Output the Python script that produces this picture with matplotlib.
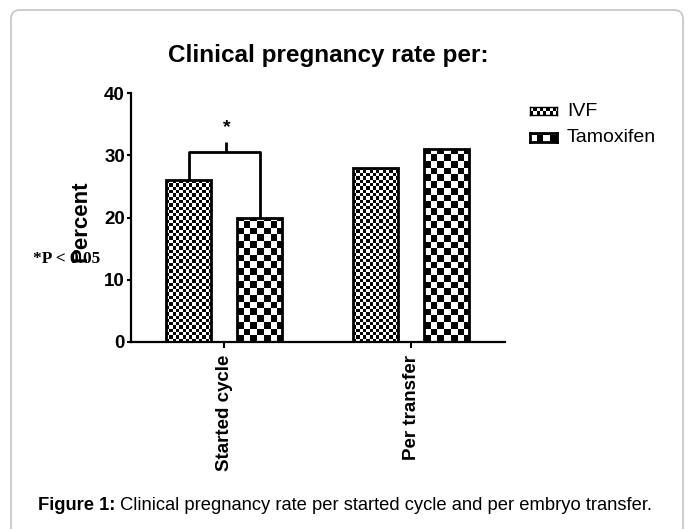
import numpy as np
import matplotlib
matplotlib.use("Agg")
import matplotlib.pyplot as plt
from matplotlib.patches import FancyBboxPatch
from matplotlib.transforms import IdentityTransform

# =====================================================
# DATA
# =====================================================

groups = ["Started cycle", "Per transfer"]
series = ["IVF", "Tamoxifen"]
ivf_values = [26, 28]
tamoxifen_values = [20, 31]
y_ticks = [0, 10, 20, 30, 40]
bracket_top = 30.5
star_label = "*"
p_note = "*P < 0.05"
title = "Clinical pregnancy rate per:"
caption_bold = "Figure 1:"
caption_rest = " Clinical pregnancy rate per started cycle and per embryo transfer."

# checker cell size in pixels for each series
cell_px = [3.3, 6.7]

plt.rcParams["font.family"] = ["Liberation Sans", "DejaVu Sans"]

W, H = 695, 529
fig = plt.figure(figsize=(W / 100, H / 100), dpi=100)
fig.patch.set_facecolor("white")

# rounded frame around the figure
frame = FancyBboxPatch((11, -20), 672, H - 10 + 20,
                       boxstyle="round,pad=0,rounding_size=9",
                       transform=IdentityTransform(),
                       facecolor="none", edgecolor="#c4c4c4", linewidth=1.2)
fig.patches.append(frame)

# =====================================================
# AXES
# =====================================================

ax_left, ax_right, ax_top, ax_bottom = 130.5, 505, 93, 342
ax = fig.add_axes([ax_left / W, (H - ax_bottom) / H,
                   (ax_right - ax_left) / W, (ax_bottom - ax_top) / H])
ax.set_xlim(-0.5, 1.5)
ax.set_ylim(0, 40)

for s in ["top", "right"]:
    ax.spines[s].set_visible(False)
for s in ["left", "bottom"]:
    ax.spines[s].set_linewidth(1.6)

x = np.arange(len(groups))
offset = 0.19
bar_w = 0.24

# pixels per data unit
p0 = ax.transData.transform((0, 0))
p1 = ax.transData.transform((1, 1))
px_x = p1[0] - p0[0]
px_y = p1[1] - p0[1]


def checker_fill(patch, cell):
    x0 = patch.get_x()
    w = patch.get_width()
    h = patch.get_height()
    ncol = int(np.ceil(w * px_x / cell)) + 1
    nrow = int(np.ceil(h * px_y / cell)) + 1
    grid = (np.indices((nrow, ncol)).sum(axis=0) % 2).astype(float)
    im = ax.imshow(grid, cmap="gray", interpolation="nearest", aspect="auto",
                   origin="lower",
                   extent=(x0, x0 + ncol * cell / px_x, 0, nrow * cell / px_y),
                   zorder=1)
    im.set_clip_path(patch)


all_values = [ivf_values, tamoxifen_values]
bar_sets = []
for k, vals in enumerate(all_values):
    pos = x + (k * 2 - 1) * offset
    bars = ax.bar(pos, vals, width=bar_w, facecolor="none",
                  edgecolor="black", linewidth=2.0, zorder=3)
    for b in bars:
        checker_fill(b, cell_px[k])
    bar_sets.append(bars)

ax.set_xlim(-0.5, 1.5)
ax.set_ylim(0, 40)

# significance bracket between the two "started cycle" bars
xl = x[0] - offset
xr = x[0] + offset
ax.plot([xl, xl, xr, xr],
        [ivf_values[0], bracket_top, bracket_top, tamoxifen_values[0]],
        color="black", linewidth=2.0, solid_capstyle="butt", zorder=4)
ax.plot([0.012, 0.012], [bracket_top, bracket_top + 1.7],
        color="black", linewidth=2.0, solid_capstyle="butt", zorder=4)
ax.text(0.012, 33.0, star_label, ha="center", va="bottom",
        fontsize=14, fontweight="bold")

# ticks
ax.set_yticks(y_ticks)
ax.set_yticklabels([str(t) for t in y_ticks], fontsize=13.5, fontweight="bold")
ax.tick_params(axis="y", length=3, width=1.5, pad=1)
ax.set_xticks(x)
ax.set_xticklabels(groups, rotation=90, fontsize=13.5, fontweight="bold")
ax.tick_params(axis="x", length=4.3, width=1.5, pad=5)

ax.set_ylabel("Percent", fontsize=16, fontweight="bold")
ax.yaxis.label.set(ha="center", va="center", rotation_mode="default")
ax.yaxis.set_label_coords((81.5 - ax_left) / (ax_right - ax_left),
                          (ax_bottom - 221) / (ax_bottom - ax_top))

# =====================================================
# TEXTS
# =====================================================

fig.text(328 / W, 1 - 62 / H, title, ha="center", va="baseline",
         fontsize=17.5, fontweight="bold")

fig.text(33 / W, 1 - 259 / H, p_note, ha="left", va="center",
         fontsize=12.5, fontweight="bold",
         family=["Liberation Serif", "DejaVu Serif"])

# legend drawn by hand to keep the checker fills
leg_y = [111, 137.5]
leg_box_h = [8, 9]
for k, name in enumerate(series):
    lax = fig.add_axes([530 / W, 1 - (leg_y[k] + leg_box_h[k] / 2) / H,
                        27 / W, leg_box_h[k] / H])
    ncol = int(np.ceil(27 / cell_px[k]))
    nrow = int(np.ceil(leg_box_h[k] / cell_px[k]))
    grid = (np.indices((nrow, ncol)).sum(axis=0) % 2).astype(float)
    lax.imshow(grid, cmap="gray", interpolation="nearest", aspect="auto",
               extent=(0, ncol * cell_px[k], 0, nrow * cell_px[k]))
    lax.set_xlim(0, 27)
    lax.set_ylim(0, leg_box_h[k])
    lax.set_xticks([])
    lax.set_yticks([])
    for s in lax.spines.values():
        s.set_linewidth(1.0 + k)
    fig.text(567 / W, 1 - leg_y[k] / H, name, ha="left", va="center",
             fontsize=14)

# caption, bold lead then regular text
renderer = fig.canvas.get_renderer()
t1 = fig.text(38 / W, 1 - 505 / H, caption_bold, ha="left", va="center",
              fontsize=13.2, fontweight="bold")
bb = t1.get_window_extent(renderer=renderer)
fig.text(bb.x1 / W, 1 - 505 / H, caption_rest, ha="left", va="center",
         fontsize=13.2)

fig.savefig("out.png", dpi=100)
